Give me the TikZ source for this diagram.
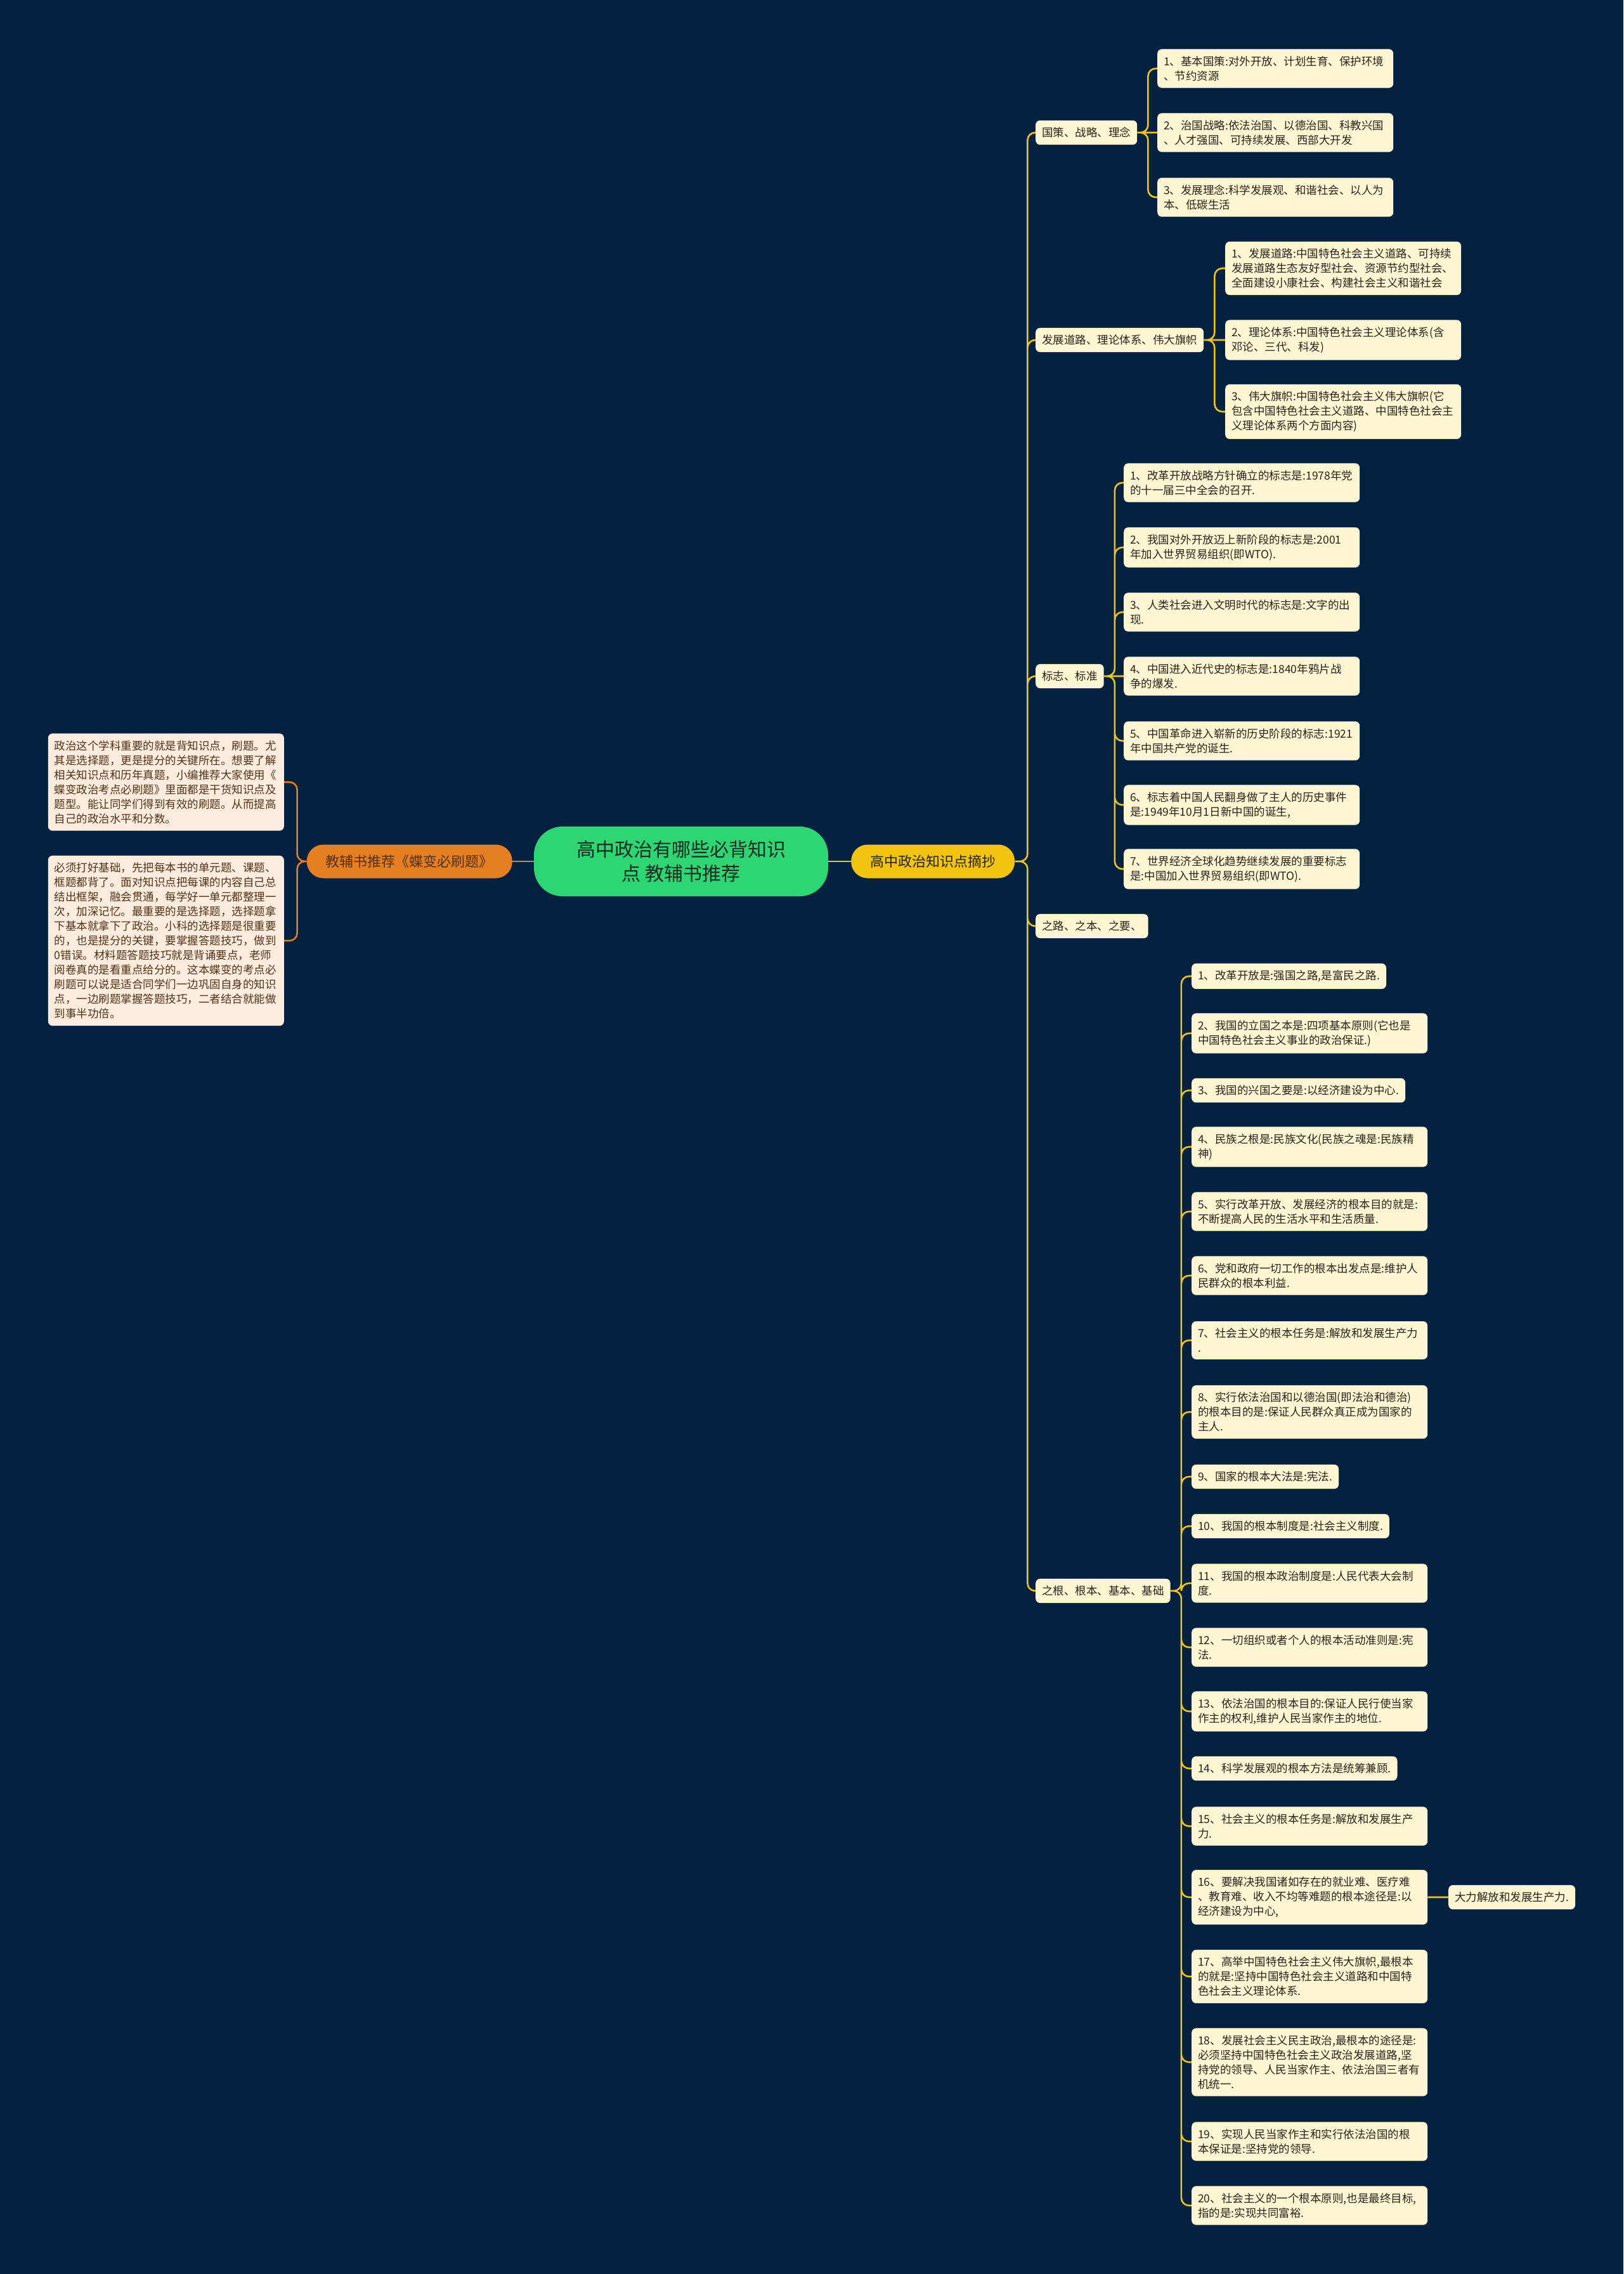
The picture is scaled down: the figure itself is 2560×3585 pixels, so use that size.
\documentclass[tikz,border=0pt]{standalone}
\usepackage{fontspec}
\setmainfont{Noto Sans CJK SC}
\usepackage{tikz}
\definecolor{bgnavy}{RGB}{4,33,64}
\definecolor{twiggold}{RGB}{240,196,32}
\definecolor{leafcream}{RGB}{254,245,210}
\definecolor{leafink}{RGB}{40,36,28}
\definecolor{tippeach}{RGB}{253,236,222}
\definecolor{tipink}{RGB}{80,50,25}
\definecolor{hubgreen}{RGB}{46,213,115}
\definecolor{hubink}{RGB}{25,45,35}
\definecolor{digestgold}{RGB}{241,196,15}
\definecolor{guideorange}{RGB}{230,126,34}

\begin{document}
\begin{tikzpicture}[x=1pt,y=-1pt,
  leaf/.style={fill=leafcream,text=leafink,rounded corners=7pt,anchor=west,align=left,
    inner xsep=10pt,inner ysep=11pt,font=\fontsize{17.5}{23}\selectfont},
  leafwide/.style={leaf,text width=352pt},
  tipbox/.style={leafwide,fill=tippeach,text=tipink,anchor=east},
  bough/.style={rounded corners=26pt,minimum height=53pt,inner xsep=30pt,
    font=\fontsize{22}{26}\selectfont},
  twig/.style={draw=twiggold,line width=2.6pt,rounded corners=12pt},
  guidetwig/.style={twig,draw=guideorange}]
\fill[bgnavy] (0,0) rectangle (2560,3585);
% centre
\node[fill=hubgreen,text=hubink,rounded corners=45pt,minimum width=464pt,minimum height=110pt,
  align=center,font=\fontsize{30}{38}\selectfont] (hub) at (1074,1358) {高中政治有哪些必背知识\\点 教辅书推荐};
\node[bough,fill=digestgold,text=leafink,anchor=west] (digest) at (1342,1358) {高中政治知识点摘抄};
\node[bough,fill=guideorange,text=tipink,anchor=east] (guide) at (808,1358) {教辅书推荐《蝶变必刷题》};
\draw[twig] (hub.east) -- (digest.west);
\draw[guidetwig] (guide.east) -- (hub.west);
% left notes
\node[tipbox] (tipbase) at (448,1233) {政治这个学科重要的就是背知识点，刷题。尤\\其是选择题，更是提分的关键所在。想要了解\\相关知识点和历年真题，小编推荐大家使用《\\蝶变政治考点必刷题》里面都是干货知识点及\\题型。能让同学们得到有效的刷题。从而提高\\自己的政治水平和分数。};
\node[tipbox] (tipdrill) at (448,1483) {必须打好基础，先把每本书的单元题、课题、\\框题都背了。面对知识点把每课的内容自己总\\结出框架，融会贯通，每学好一单元都整理一\\次，加深记忆。最重要的是选择题，选择题拿\\下基本就拿下了政治。小科的选择题是很重要\\的，也是提分的关键，要掌握答题技巧，做到\\0错误。材料题答题技巧就是背诵要点，老师\\阅卷真的是看重点给分的。这本蝶变的考点必\\刷题可以说是适合同学们一边巩固自身的知识\\点，一边刷题掌握答题技巧，二者结合就能做\\到事半功倍。};
\draw[guidetwig] (guide.west) -- ++(-15,0) |- (tipbase.east)
  (guide.west) -- ++(-15,0) |- (tipdrill.east);
% right topics
\node[leaf] (policy) at (1633,209) {国策、战略、理念};
\node[leaf] (road) at (1633,536) {发展道路、理论体系、伟大旗帜};
\node[leaf] (mark) at (1633,1066) {标志、标准};
\node[leaf] (way) at (1633,1460) {之路、之本、之要、};
\node[leaf] (root) at (1633,2508) {之根、根本、基本、基础};
\draw[twig] (digest.east) -- ++(20,0) |- (policy.west)
  (digest.east) -- ++(20,0) |- (road.west)
  (digest.east) -- ++(20,0) |- (mark.west)
  (digest.east) -- ++(20,0) |- (way.west)
  (digest.east) -- ++(20,0) |- (root.west);
% policy
\node[leafwide] (policy1) at (1825,108) {1、基本国策:对外开放、计划生育、保护环境\\、节约资源};
\node[leafwide] (policy2) at (1825,209) {2、治国战略:依法治国、以德治国、科教兴国\\、人才强国、可持续发展、西部大开发};
\node[leafwide] (policy3) at (1825,311) {3、发展理念:科学发展观、和谐社会、以人为\\本、低碳生活};
\draw[twig] (policy.east) -- ++(17,0) |- (policy1.west)
  (policy.east) -- (policy2.west)
  (policy.east) -- ++(17,0) |- (policy3.west);
% road
\node[leafwide] (road1) at (1932,423) {1、发展道路:中国特色社会主义道路、可持续\\发展道路生态友好型社会、资源节约型社会、\\全面建设小康社会、构建社会主义和谐社会};
\node[leafwide] (road2) at (1932,536) {2、理论体系:中国特色社会主义理论体系(含\\邓论、三代、科发)};
\node[leafwide] (road3) at (1932,649) {3、伟大旗帜:中国特色社会主义伟大旗帜(它\\包含中国特色社会主义道路、中国特色社会主\\义理论体系两个方面内容)};
\draw[twig] (road.east) -- ++(17,0) |- (road1.west)
  (road.east) -- (road2.west)
  (road.east) -- ++(17,0) |- (road3.west);
% mark
\node[leafwide] (mark1) at (1772,761) {1、改革开放战略方针确立的标志是:1978年党\\的十一届三中全会的召开.};
\node[leafwide] (mark2) at (1772,863) {2、我国对外开放迈上新阶段的标志是:2001\\年加入世界贸易组织(即WTO).};
\node[leafwide] (mark3) at (1772,965) {3、人类社会进入文明时代的标志是:文字的出\\现.};
\node[leafwide] (mark4) at (1772,1066) {4、中国进入近代史的标志是:1840年鸦片战\\争的爆发.};
\node[leafwide] (mark5) at (1772,1168) {5、中国革命进入崭新的历史阶段的标志:1921\\年中国共产党的诞生.};
\node[leafwide] (mark6) at (1772,1269) {6、标志着中国人民翻身做了主人的历史事件\\是:1949年10月1日新中国的诞生,};
\node[leafwide] (mark7) at (1772,1370) {7、世界经济全球化趋势继续发展的重要标志\\是:中国加入世界贸易组织(即WTO).};
\draw[twig] (mark.east) -- ++(17,0) |- (mark1.west)
  (mark.east) -- ++(17,0) |- (mark2.west)
  (mark.east) -- ++(17,0) |- (mark3.west)
  (mark.east) -- (mark4.west)
  (mark.east) -- ++(17,0) |- (mark5.west)
  (mark.east) -- ++(17,0) |- (mark6.west)
  (mark.east) -- ++(17,0) |- (mark7.west);
% root
\node[leaf] (root1) at (1879,1539) {1、改革开放是:强国之路,是富民之路.};
\node[leafwide] (root2) at (1879,1629) {2、我国的立国之本是:四项基本原则(它也是\\中国特色社会主义事业的政治保证.)};
\node[leaf] (root3) at (1879,1719) {3、我国的兴国之要是:以经济建设为中心.};
\node[leafwide] (root4) at (1879,1808) {4、民族之根是:民族文化(民族之魂是:民族精\\神)};
\node[leafwide] (root5) at (1879,1910) {5、实行改革开放、发展经济的根本目的就是:\\不断提高人民的生活水平和生活质量.};
\node[leafwide] (root6) at (1879,2011) {6、党和政府一切工作的根本出发点是:维护人\\民群众的根本利益.};
\node[leafwide] (root7) at (1879,2113) {7、社会主义的根本任务是:解放和发展生产力\\.};
\node[leafwide] (root8) at (1879,2226) {8、实行依法治国和以德治国(即法治和德治)\\的根本目的是:保证人民群众真正成为国家的\\主人.};
\node[leaf] (root9) at (1879,2328) {9、国家的根本大法是:宪法.};
\node[leaf] (root10) at (1879,2406) {10、我国的根本制度是:社会主义制度.};
\node[leafwide] (root11) at (1879,2496) {11、我国的根本政治制度是:人民代表大会制\\度.};
\node[leafwide] (root12) at (1879,2597) {12、一切组织或者个人的根本活动准则是:宪\\法.};
\node[leafwide] (root13) at (1879,2698) {13、依法治国的根本目的:保证人民行使当家\\作主的权利,维护人民当家作主的地位.};
\node[leaf] (root14) at (1879,2788) {14、科学发展观的根本方法是统筹兼顾.};
\node[leafwide] (root15) at (1879,2879) {15、社会主义的根本任务是:解放和发展生产\\力.};
\node[leafwide] (root16) at (1879,2991) {16、要解决我国诸如存在的就业难、医疗难\\、教育难、收入不均等难题的根本途径是:以\\经济建设为中心,};
\node[leafwide] (root17) at (1879,3116) {17、高举中国特色社会主义伟大旗帜,最根本\\的就是:坚持中国特色社会主义道路和中国特\\色社会主义理论体系.};
\node[leafwide] (root18) at (1879,3251) {18、发展社会主义民主政治,最根本的途径是:\\必须坚持中国特色社会主义政治发展道路,坚\\持党的领导、人民当家作主、依法治国三者有\\机统一.};
\node[leafwide] (root19) at (1879,3376) {19、实现人民当家作主和实行依法治国的根\\本保证是:坚持党的领导.};
\node[leafwide] (root20) at (1879,3477) {20、社会主义的一个根本原则,也是最终目标,\\指的是:实现共同富裕.};
\node[leaf] (root16x) at (2284,2991) {大力解放和发展生产力.};
\draw[twig] (root.east) -- ++(17,0) |- (root1.west)
  (root.east) -- ++(17,0) |- (root2.west)
  (root.east) -- ++(17,0) |- (root3.west)
  (root.east) -- ++(17,0) |- (root4.west)
  (root.east) -- ++(17,0) |- (root5.west)
  (root.east) -- ++(17,0) |- (root6.west)
  (root.east) -- ++(17,0) |- (root7.west)
  (root.east) -- ++(17,0) |- (root8.west)
  (root.east) -- ++(17,0) |- (root9.west)
  (root.east) -- ++(17,0) |- (root10.west)
  (root.east) -- ++(17,0) |- (root11.west)
  (root.east) -- ++(17,0) |- (root12.west)
  (root.east) -- ++(17,0) |- (root13.west)
  (root.east) -- ++(17,0) |- (root14.west)
  (root.east) -- ++(17,0) |- (root15.west)
  (root.east) -- ++(17,0) |- (root16.west)
  (root.east) -- ++(17,0) |- (root17.west)
  (root.east) -- ++(17,0) |- (root18.west)
  (root.east) -- ++(17,0) |- (root19.west)
  (root.east) -- ++(17,0) |- (root20.west)
  (root16.east) -- (root16x.west);
\end{tikzpicture}
\end{document}
